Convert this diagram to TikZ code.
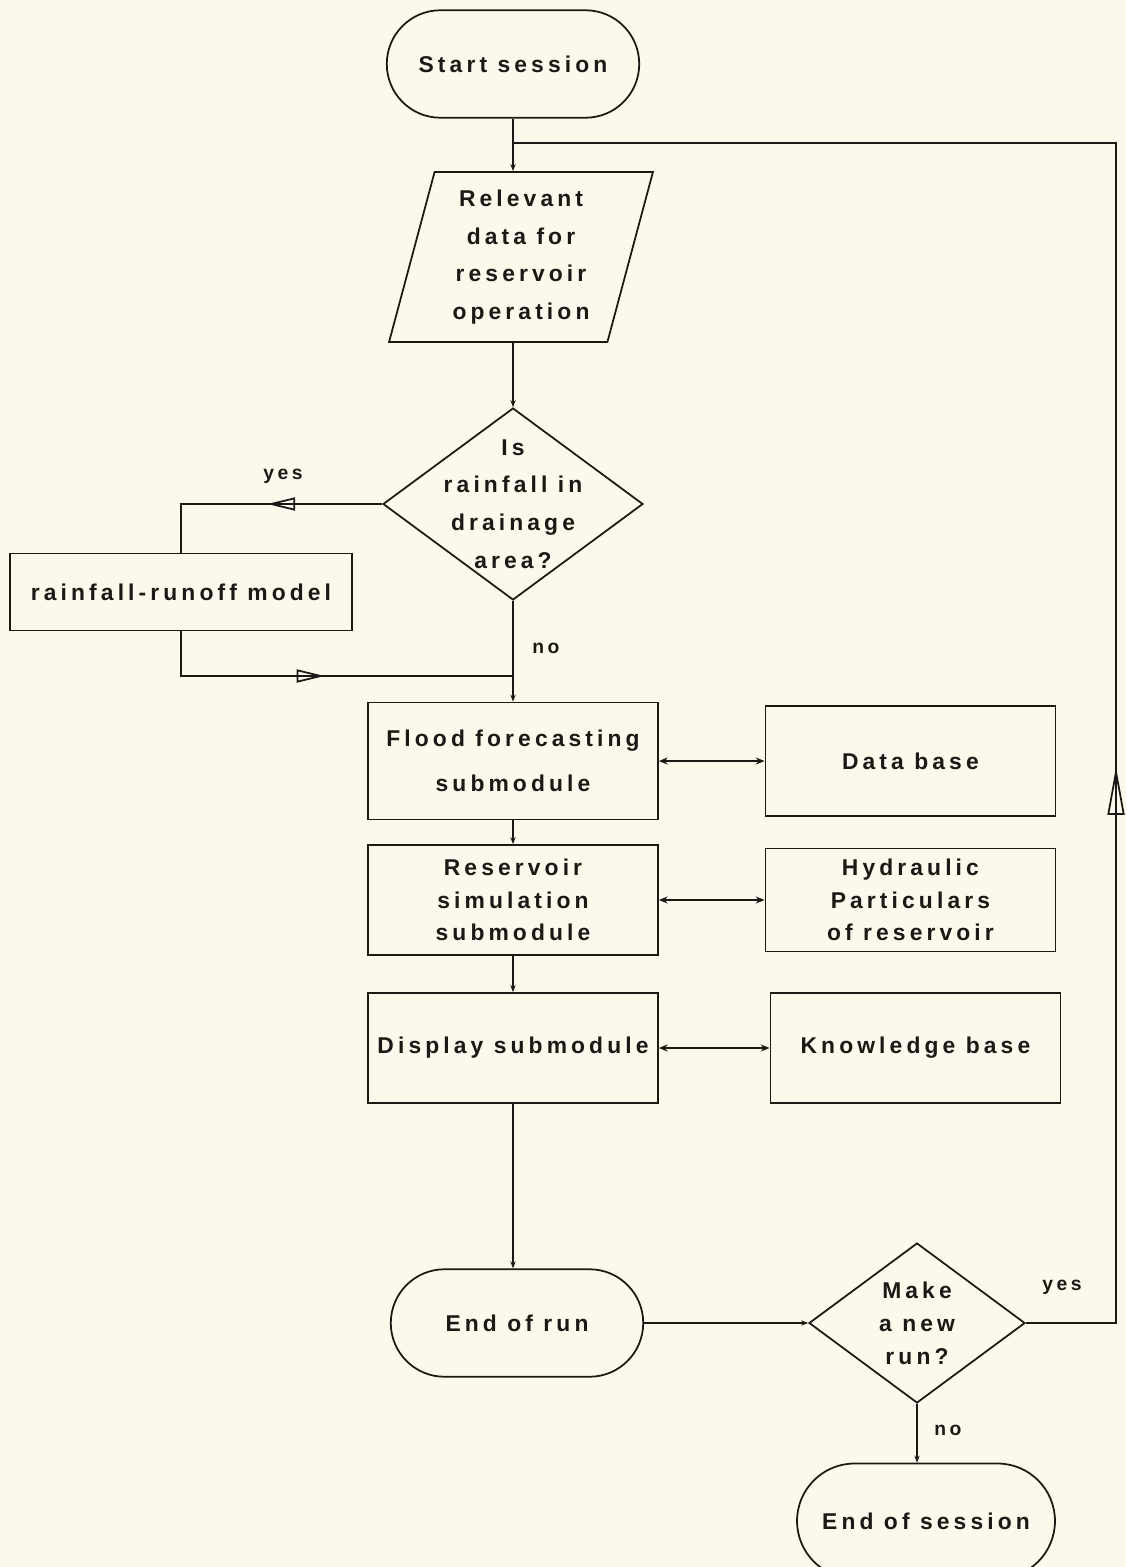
\documentclass[tikz,border=0pt]{standalone}
\usepackage{fontspec}
\setmainfont{Liberation Sans}[LetterSpace=18]
\usetikzlibrary{shapes.geometric}
\usetikzlibrary{shapes.misc}
\usetikzlibrary{arrows.meta}
\usetikzlibrary{decorations.markings}
\usetikzlibrary{positioning}
\definecolor{paper}{RGB}{251,249,235}
\definecolor{ink}{RGB}{28,24,20}
\tikzset{x=0.02cm, y=-0.02cm, % one unit is one pixel of the page
every node/.style={ % Text of all the blocks
font=\bfseries\fontsize{13}{18.5}\selectfont,
text=ink,
align=center},
terminal/.style={rounded rectangle, draw=ink, line width=1pt,
minimum width=5.05cm, minimum height=2.15cm, inner sep=0pt},
process/.style={rectangle, draw=ink, line width=1pt,
minimum width=5.8cm, minimum height=2.2cm, inner sep=0pt},
inout/.style={trapezium, trapezium left angle=75, trapezium right angle=105,
draw=ink, line width=1pt, minimum width=5.24cm, minimum height=3.4cm, inner sep=0pt},
decision/.style={diamond, draw=ink, line width=1pt, inner sep=0pt},
answer/.style={font=\bfseries\fontsize{11}{13}\selectfont},
flow/.style={draw=ink, line width=1pt, -{Stealth[length=4pt,width=3pt]}},
link/.style={draw=ink, line width=1pt,
{Stealth[length=5pt,width=4pt]}-{Stealth[length=5pt,width=4pt]}},
plain/.style={draw=ink, line width=1pt},
openmid/.style={postaction={decorate}, decoration={markings,
mark=at position #1 with {\arrow{Triangle[open, length=0.56cm, width=0.26cm, line width=1pt]}}}},
openbig/.style={postaction={decorate}, decoration={markings,
mark=at position #1 with {\arrow{Triangle[open, length=0.96cm, width=0.34cm, line width=1pt]}}}}}

\begin{document}
\begin{tikzpicture}
				\useasboundingbox (0,0) rectangle (1126,1567);
				\fill[paper] (0,0) rectangle (1126,1567);
				\clip (0,0) rectangle (1126,1567);

				% main column
				\node[terminal] (start) at (513,64) {Start session};
				\node[inout, font=\bfseries\fontsize{13}{21.5}\selectfont] (data) at (521,257) {Relevant\\data for\\reservoir\\operation};
				\node[decision, minimum width=5.2cm, minimum height=3.84cm,
					label={[font=\bfseries\fontsize{13}{21.5}\selectfont]center:{Is\\rainfall in\\drainage\\area?}}] (rain) at (513,504) {};
				\node[process, minimum width=6.84cm, minimum height=1.54cm] (runoff) at (181,592) {rainfall-runoff model};
				\node[process, minimum height=2.34cm, font=\bfseries\fontsize{13}{25.5}\selectfont] (flood) at (513,761) {Flood forecasting\\submodule};
				\node[process] (simul) at (513,900) {Reservoir\\simulation\\submodule};
				\node[process] (display) at (513,1048) {Display submodule};
				\node[terminal] (endrun) at (517,1323) {End of run};
				\node[decision, minimum width=4.32cm, minimum height=3.2cm,
					label={[font=\bfseries\fontsize{13}{18.7}\selectfont]center:{Make\\a new\\run?}}] (newrun) at (917,1323) {};
				\node[terminal, minimum width=5.16cm, minimum height=2.3cm] (endsession) at (926,1521) {End of session};

				% side blocks
				\node[process, right of=flood, node distance=7.95cm] (database) {Data base};
				\node[process, minimum height=2.06cm, right of=simul, node distance=7.95cm] (hydraulic) {Hydraulic\\Particulars\\of reservoir};
				\node[process, right of=display, node distance=8.05cm] (knowledge) {Knowledge base};

				\node[answer] (yes1) at (283,476) {yes};
				\node[answer] (no1) at (546,648) {no};
				\node[answer] (yes2) at (1062,1287) {yes};
				\node[answer] (no2) at (948,1430) {no};

				\coordinate (merge) at (513,676);
				\coordinate (loopcorner) at (1116,143);

				\draw[flow] (start.south) -- (start.south |- data.north);
				\draw[flow] (start.south |- data.south) -- (rain.north);
				\draw[plain, openmid=0.46] (rain.west) -| (runoff.north);
				\draw[plain, openmid=0.5] (runoff.south) |- (merge);
				\draw[flow] (rain.south) -- (flood.north);
				\draw[flow] (flood.south) -- (simul.north);
				\draw[flow] (simul.south) -- (display.north);
				\draw[flow] (display.south) -- (display.south |- endrun.north);
				\draw[flow] (endrun.east) -- (newrun.west);
				\draw[flow] (newrun.south) -- (newrun.south |- endsession.north);
				\draw[plain, openbig=0.345] (newrun.east) -| (loopcorner) -- (start.south |- loopcorner);

				\draw[link] (flood.east) -- (database.west);
				\draw[link] (simul.east) -- (simul.east -| hydraulic.west);
				\draw[link] (display.east) -- (display.east -| knowledge.west);
			\end{tikzpicture}
\end{document}
